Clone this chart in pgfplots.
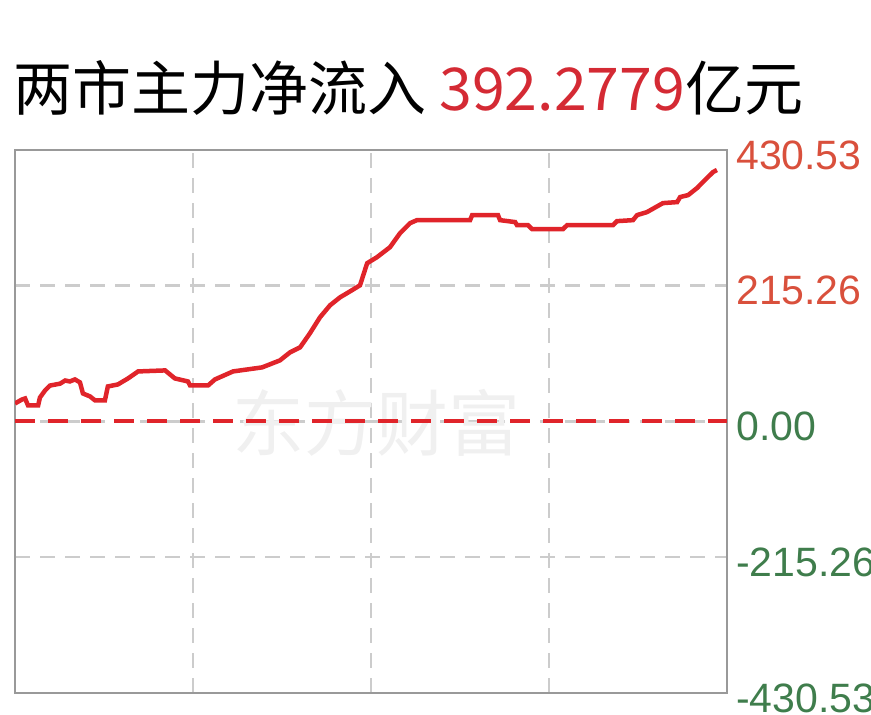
\documentclass[border=0pt]{standalone}
\usepackage{pgfplots}
\pgfplotsset{compat=1.18}
\usepackage{fontspec}
\setmainfont{Liberation Sans}
\newfontfamily\cjk{Noto Sans CJK SC}
\definecolor{linered}{HTML}{E0242A}
\definecolor{titlered}{HTML}{D42A34}
\definecolor{lblred}{HTML}{D9503C}
\definecolor{lblgreen}{HTML}{3F7D4C}
\begin{document}
\begin{tikzpicture}
\useasboundingbox (0,0) rectangle (871bp,715bp);
\node[anchor=base west, inner sep=0] at (13bp,604bp)
  {\cjk\fontsize{59bp}{62bp}\selectfont 两市主力净流入 \textcolor{titlered}{392.2779}亿元};
\begin{axis}[
    at={(15bp,22bp)}, anchor=south west,
    scale only axis,
    width=712bp, height=543bp,
    xmin=0, xmax=240,
    ymin=-430.53, ymax=430.53,
    xtick={60,120,180},
    xticklabels={},
    ytick={-430.53,-215.26,0,215.26,430.53},
    yticklabels={
      \textcolor{lblgreen}{-430.53},
      \textcolor{lblgreen}{-215.26},
      \textcolor{lblgreen}{0.00},
      \textcolor{lblred}{215.26},
      \textcolor{lblred}{430.53}},
    yticklabel pos=right,
    yticklabel style={anchor=west, inner sep=0pt, xshift=9bp, yshift=-5bp,
      font=\fontsize{41bp}{44bp}\selectfont},
    major tick length=0pt,
    grid=major,
    major grid style={gray!40, line width=2.5bp, dash pattern=on 15bp off 10bp},
    axis line style={draw=gray!80, line width=2.5bp},
    clip=true,
]
\node[text=black!6, font=\cjk\fontsize{72bp}{74bp}\selectfont] at (axis cs:122,-2) {东方财富};
\addplot[linered, line width=4bp, dash pattern=on 20bp off 13bp] coordinates {(0,0) (240,0)};
\addplot[linered, line width=4.5bp] coordinates {
(0,28.6) (2.4,35) (3.4,36.5) (4.4,25.4) (7.8,25.4) (8.4,38) (10.1,49)
(11.8,57) (15.2,60) (16.9,65) (18.5,63.5) (20.2,66.7) (21.9,62)
(22.9,44.5) (25.3,39.7) (27.0,33.4) (30.3,33.4) (31.3,55.6) (34.7,58.8)
(38.1,68.3) (41.5,79.4) (50.6,81) (53.9,68.3) (58.3,63.5) (59.0,57.2)
(65.1,57.2) (67.4,66.7) (73.5,79.4) (83.3,85.8) (89.3,96.9) (92.7,109.6)
(96.1,117.6) (99.4,139.8) (102.8,165.2) (106.2,184.3) (109.6,197)
(113.0,206.5) (116.3,216) (118.7,251) (122.0,260.5) (126.4,276.4)
(129.8,298.7) (133.2,314.6) (135.5,319.3) (153.4,319.3) (154.1,327.3)
(162.8,327.3) (163.5,319.3) (168.6,316.2) (169.2,311.4) (172.9,311.4)
(174.3,305) (184.7,305) (186.1,311.4) (201.6,311.4) (202.9,317.7)
(208.3,319.3) (209.7,327.3) (213.0,332) (218.4,346.3) (223.2,347.9)
(224.2,355.9) (226.9,359) (229.9,370.2) (231.9,379.7) (235.3,395.6)
(236.6,398.8)
};
\end{axis}
\end{tikzpicture}
\end{document}
